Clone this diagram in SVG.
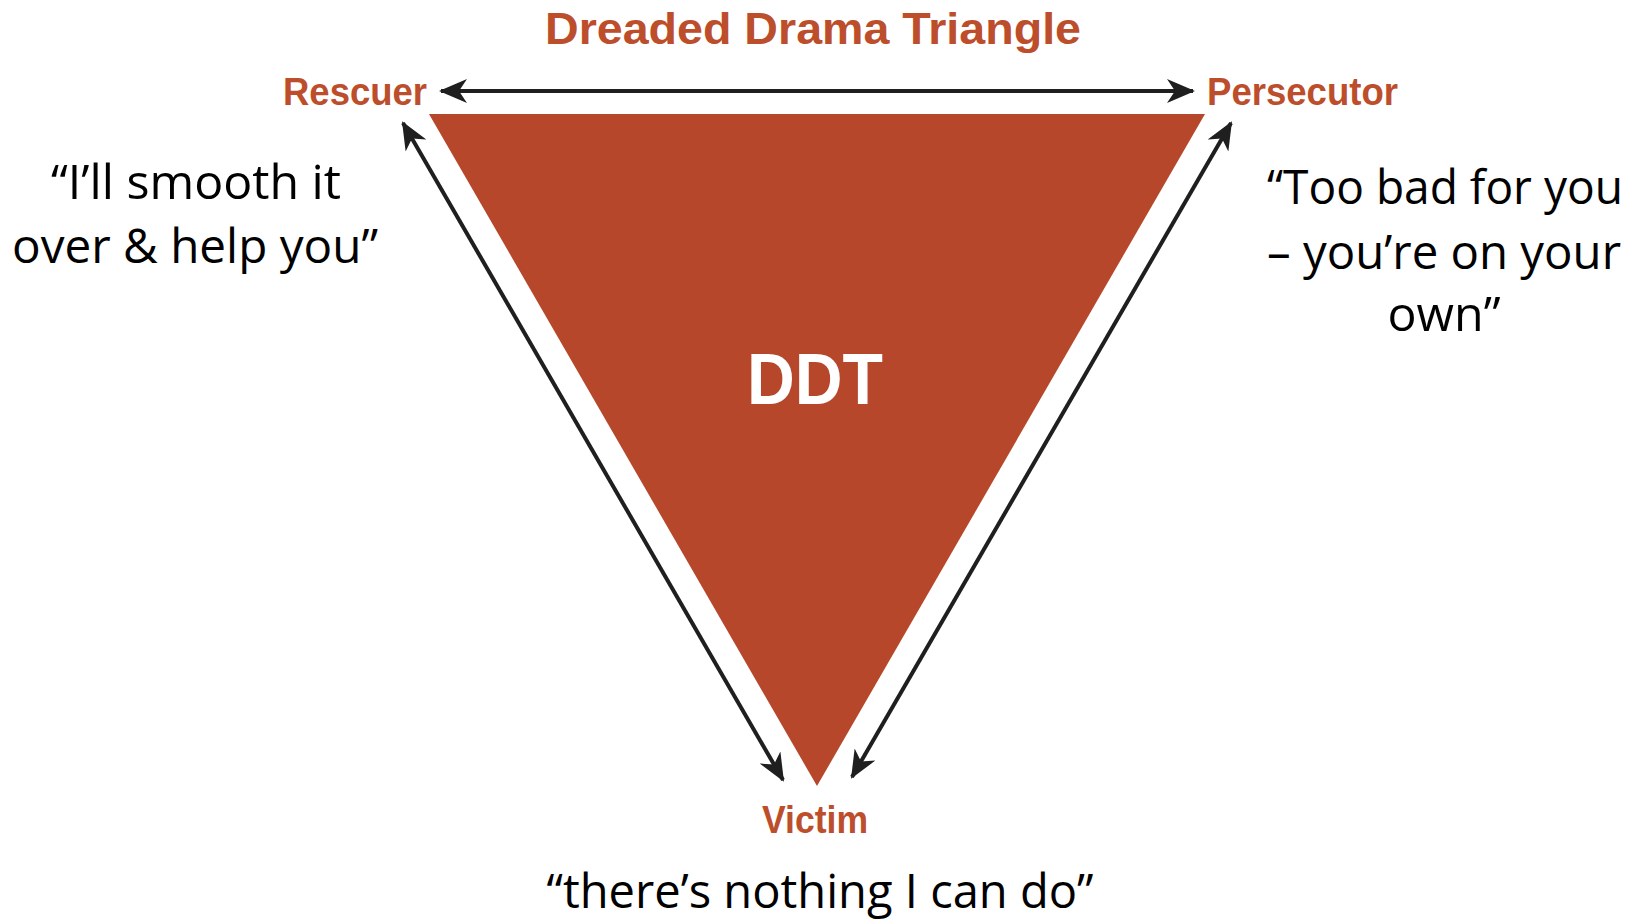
<svg xmlns="http://www.w3.org/2000/svg" width="1642" height="919" viewBox="0 0 1642 919">
  <style>
    .role { font-family: "Liberation Sans", Arial, sans-serif; font-weight: bold; fill: #BD4E2C; }
    .quote { font-family: "Open Sans", "Noto Sans", sans-serif; font-size: 48px; fill: #000; }
    .link { stroke: #1f1f1f; stroke-width: 4; fill: none; marker-start: url(#tip); marker-end: url(#tip); }
  </style>
  <defs>
    <!-- concave arrowhead shared by all role links -->
    <marker id="tip" viewBox="0 0 28 24" refX="26" refY="12" markerWidth="28" markerHeight="24" markerUnits="userSpaceOnUse" orient="auto-start-reverse">
      <path d="M0,0 L28,12 L0,24 L8,12 Z" fill="#1f1f1f"/>
    </marker>
  </defs>
  <rect width="1642" height="919" fill="#fff"/>

  <!-- title -->
  <text class="role" x="813" y="44" font-size="44" text-anchor="middle" textLength="536" lengthAdjust="spacingAndGlyphs">Dreaded Drama Triangle</text>

  <!-- central triangle -->
  <g id="ddt">
    <polygon points="429,114 1205,114 817,786" fill="#B7472A"/>
    <text x="815" y="404" font-family="Liberation Sans, Arial, sans-serif" font-weight="bold" font-size="73" fill="#fff" text-anchor="middle" textLength="136" lengthAdjust="spacingAndGlyphs">DDT</text>
  </g>

  <!-- connectors between roles -->
  <g id="connectors">
    <line class="link" x1="403" y1="123" x2="783" y2="780"/>
    <line class="link" x1="1231" y1="123" x2="852" y2="777"/>
    <line class="link" x1="441" y1="91" x2="1193" y2="91"/>
  </g>

  <g id="rescuer">
    <text class="role" x="283" y="105" font-size="38" textLength="144" lengthAdjust="spacingAndGlyphs">Rescuer</text>
    <text class="quote" x="196" y="199" text-anchor="middle" textLength="290" lengthAdjust="spacingAndGlyphs">“I’ll smooth it</text>
    <text class="quote" x="195" y="263" text-anchor="middle" textLength="366" lengthAdjust="spacingAndGlyphs">over &amp; help you”</text>
  </g>

  <g id="persecutor">
    <text class="role" x="1207" y="105" font-size="38" textLength="191" lengthAdjust="spacingAndGlyphs">Persecutor</text>
    <text class="quote" x="1445" y="204" text-anchor="middle" textLength="356" lengthAdjust="spacingAndGlyphs">“Too bad for you</text>
    <text class="quote" x="1444" y="269" text-anchor="middle" textLength="354" lengthAdjust="spacingAndGlyphs">– you’re on your</text>
    <text class="quote" x="1444" y="331" text-anchor="middle" textLength="113" lengthAdjust="spacingAndGlyphs">own”</text>
  </g>

  <g id="victim">
    <text class="role" x="815" y="833" font-size="38" text-anchor="middle" textLength="106" lengthAdjust="spacingAndGlyphs">Victim</text>
    <text class="quote" x="820" y="908" text-anchor="middle" textLength="547" lengthAdjust="spacingAndGlyphs">“there’s nothing I can do”</text>
  </g>
</svg>
